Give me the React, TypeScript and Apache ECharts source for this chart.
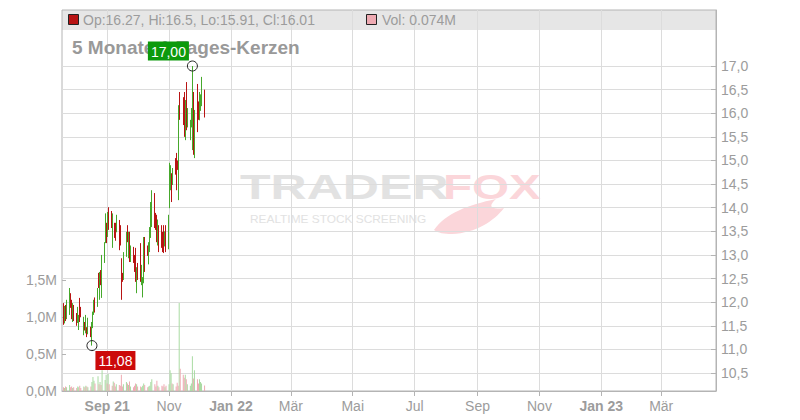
import React, { useEffect, useRef } from 'react';
import * as echarts from 'echarts';

const dates = [
  '2021-07-20','2021-07-21','2021-07-22','2021-07-23','2021-07-26','2021-07-27','2021-07-28','2021-07-29','2021-07-30',
  '2021-08-02','2021-08-03','2021-08-04','2021-08-05','2021-08-06','2021-08-09','2021-08-10','2021-08-11','2021-08-12','2021-08-13',
  '2021-08-16','2021-08-17','2021-08-18','2021-08-19','2021-08-20','2021-08-23','2021-08-24','2021-08-25','2021-08-26','2021-08-27',
  '2021-08-30','2021-08-31','2021-09-01','2021-09-02','2021-09-03','2021-09-06','2021-09-07','2021-09-08','2021-09-09','2021-09-10',
  '2021-09-13','2021-09-14','2021-09-15','2021-09-16','2021-09-17','2021-09-20','2021-09-21','2021-09-22','2021-09-23','2021-09-24',
  '2021-09-27','2021-09-28','2021-09-29','2021-09-30','2021-10-01','2021-10-04','2021-10-05','2021-10-06','2021-10-07','2021-10-08',
  '2021-10-11','2021-10-12','2021-10-13','2021-10-14','2021-10-15','2021-10-18','2021-10-19','2021-10-20','2021-10-21','2021-10-22',
  '2021-10-25','2021-10-26','2021-10-27','2021-10-28','2021-10-29','2021-11-01','2021-11-02','2021-11-03','2021-11-04','2021-11-05',
  '2021-11-08','2021-11-09','2021-11-10','2021-11-11','2021-11-12','2021-11-15','2021-11-16','2021-11-17','2021-11-18','2021-11-19',
  '2021-11-22','2021-11-23','2021-11-24','2021-11-25','2021-11-26','2021-11-29','2021-11-30','2021-12-01','2021-12-02','2021-12-03',
  '2021-12-06'
];
const opens = [
  11.94,11.60,11.90,11.68,11.78,12.15,11.98,11.64,11.90,
  11.74,11.58,11.45,12.05,11.85,11.35,11.55,11.38,11.45,11.36,
  11.46,11.30,11.48,11.75,12.05,11.95,12.60,12.10,12.60,12.15,
  12.88,13.30,13.60,13.45,13.95,13.85,13.20,13.66,13.65,13.50,
  13.65,13.55,12.90,12.60,12.50,12.98,13.60,13.00,13.45,12.90,
  13.15,12.95,13.10,12.25,12.80,13.20,12.40,12.15,12.45,13.30,
  13.15,12.85,13.10,13.40,13.70,14.25,13.85,13.80,13.30,13.60,
  13.55,13.45,13.60,13.20,13.55,13.15,14.00,14.40,14.68,14.50,
  15.00,15.10,14.95,14.25,16.40,16.30,16.35,15.55,16.60,15.75,
  15.50,15.75,15.60,16.40,15.30,16.50,16.20,15.90,16.10,16.20,
  16.27
];
const highs = [
  11.98,11.92,11.94,12.05,12.30,12.19,12.05,11.98,11.94,
  11.77,11.90,11.73,12.09,11.90,11.69,11.58,11.73,11.47,11.67,
  11.48,11.58,11.80,12.05,12.10,12.30,12.62,12.64,12.68,13.00,
  13.27,13.88,13.68,13.91,14.01,13.93,13.88,13.68,13.68,13.85,
  13.74,13.63,12.93,12.62,13.06,13.49,13.63,13.49,13.49,13.20,
  13.17,13.00,13.15,12.74,12.83,13.25,12.79,12.53,13.38,13.38,
  13.20,13.27,13.59,14.12,14.37,14.31,13.89,13.85,13.75,13.63,
  13.63,13.49,13.63,13.50,13.63,13.85,14.95,14.90,14.73,14.84,
  15.05,15.16,15.00,16.17,16.45,16.34,16.45,16.28,16.66,16.11,
  15.86,16.11,17.00,16.45,16.07,16.62,16.25,16.45,16.40,16.77,
  16.50
];
const lows = [
  11.52,11.55,11.60,11.64,11.73,11.88,11.64,11.58,11.60,
  11.50,11.56,11.41,11.58,11.68,11.30,11.40,11.34,11.26,11.32,
  11.26,11.08,11.45,11.73,11.78,11.90,12.30,12.05,12.36,12.09,
  12.83,13.25,13.25,13.38,13.53,13.57,13.15,13.36,13.30,13.48,
  13.10,13.20,12.05,12.43,12.47,12.96,13.27,12.93,12.85,12.85,
  12.83,12.64,12.43,12.19,12.47,12.43,12.36,12.10,12.40,12.64,
  12.98,12.80,13.06,13.36,13.59,13.57,13.53,13.27,13.20,13.06,
  13.15,13.06,13.04,13.18,13.06,13.12,13.99,14.37,14.12,14.48,
  14.70,14.37,14.80,14.16,15.86,15.75,15.50,15.43,15.64,15.70,
  15.43,15.70,15.22,15.12,15.05,15.60,15.86,15.85,16.05,16.15,
  15.91
];
const closes = [
  11.56,11.88,11.65,11.98,12.20,11.92,11.70,11.90,11.66,
  11.53,11.85,11.70,11.62,11.72,11.62,11.43,11.68,11.30,11.60,
  11.30,11.50,11.76,12.00,11.82,12.25,12.34,12.60,12.40,12.90,
  13.20,13.80,13.30,13.85,13.60,13.62,13.80,13.40,13.35,13.78,
  13.20,13.25,12.15,12.46,13.00,13.42,13.30,13.45,12.90,13.15,
  12.87,12.68,12.50,12.70,12.50,12.50,12.75,12.48,13.30,12.70,
  13.00,13.20,13.50,14.00,14.30,13.65,13.56,13.30,13.70,13.10,
  13.20,13.12,13.10,13.45,13.12,13.75,14.85,14.85,14.20,14.78,
  14.74,14.45,14.83,16.05,15.90,15.80,15.60,16.20,15.70,16.05,
  15.80,16.05,16.20,15.30,15.95,15.70,15.92,16.40,16.35,16.70,
  16.01
];
const volumes = [
  0.05,0.04,0.06,0.05,0.08,0.05,0.06,0.04,0.05,
  0.04,0.06,0.05,0.07,0.04,0.06,0.05,0.07,0.06,0.05,
  0.06,0.12,0.19,0.14,0.10,0.20,0.09,0.12,0.08,0.28,
  0.15,0.22,0.10,0.23,0.09,0.07,0.13,0.11,0.06,0.09,
  0.08,0.07,0.22,0.06,0.09,0.12,0.10,0.08,0.13,0.06,
  0.05,0.07,0.10,0.09,0.06,0.06,0.05,0.07,0.10,0.08,
  0.05,0.06,0.07,0.12,0.16,0.09,0.06,0.14,0.07,0.05,
  0.07,0.06,0.09,0.05,0.07,0.09,0.28,0.24,0.10,0.09,
  0.06,0.11,0.07,1.19,0.30,0.22,0.18,0.22,0.16,0.09,
  0.07,0.10,0.47,0.17,0.28,0.16,0.10,0.16,0.12,0.10,
  0.074
];

const priceTicks = [10.5, 11, 11.5, 12, 12.5, 13, 13.5, 14, 14.5, 15, 15.5, 16, 16.5, 17];
const monthTickDates = ['2021-09-01','2021-11-01','2022-01-01','2022-03-01','2022-05-01','2022-07-01','2022-09-01','2022-11-01','2023-01-01','2023-03-01'];
const monthTickLabels = ['Sep 21','Nov','Jan 22','Mär','Mai','Jul','Sep','Nov','Jan 23','Mär'];
const yearLabels = ['Sep 21','Jan 22','Jan 23'];
const headerText = 'Op:16.27, Hi:16.5, Lo:15.91, Cl:16.01';
const volText = 'Vol: 0.074M';
const titleText = '5 Monate 1-Tages-Kerzen';

const FONT = '"Liberation Sans", Arial, sans-serif';
const UP = '#46a82c';
const DOWN = '#b81414';
const VOL_UP = '#a9dba2';
const VOL_DOWN = '#eeaab2';
const GRID = '#dcdcdc';
const AXIS = '#b4b4b4';
const LABEL = '#9c9c9c';

function ts(s: string): number {
  const [y, m, d] = s.split('-').map(Number);
  return Date.UTC(y, m - 1, d);
}

const fmtComma = (v: number, digits: number) => v.toFixed(digits).replace('.', ',');

echarts.graphic.registerShape('foxtail', echarts.graphic.extendPath(
  'M0 31 C12 14 34 6 62 0 C54 7 56 11 70 9 C60 22 42 34 18 35 C10 35 4 34 0 31 Z', {}
));

export default function App() {
  const ref = useRef<HTMLDivElement>(null);
  useEffect(() => {
    if (!ref.current) return;
    const chart = echarts.init(ref.current, undefined, { renderer: 'svg' });
    const tickTs = monthTickDates.map(ts);
    const candleData = dates.map((d, i) => [ts(d), opens[i], closes[i], lows[i], highs[i]]);
    const volData = dates.map((d, i) => ({
      value: [ts(d), volumes[i]],
      itemStyle: { color: closes[i] >= opens[i] ? VOL_UP : VOL_DOWN },
    }));
    let iMax = 0, iMin = 0;
    highs.forEach((h, i) => { if (h > highs[iMax]) iMax = i; });
    lows.forEach((l, i) => { if (l < lows[iMin]) iMin = i; });

    const xMin = Date.UTC(2021, 6, 18, 12);
    const xMax = Date.UTC(2023, 3, 24);

    const xLabelFormatter = (value: number) => {
      let idx = -1;
      tickTs.forEach((t, i) => { if (Math.abs(t - value) < 43200000) idx = i; });
      if (idx < 0) return '';
      const l = monthTickLabels[idx];
      return yearLabels.includes(l) ? `{b|${l}}` : `{n|${l}}`;
    };

    chart.setOption({
      animation: false,
      textStyle: { fontFamily: FONT },
      grid: [
        { left: 62, right: 84, top: 10, bottom: 29, show: true, borderColor: AXIS, borderWidth: 1, backgroundColor: 'transparent' },
        { left: 62, right: 84, top: 280, bottom: 29, show: false },
      ],
      xAxis: [
        {
          type: 'value', gridIndex: 0, min: xMin, max: xMax, scale: true,
          axisLine: { show: true, lineStyle: { color: AXIS } },
          axisTick: { show: true, length: 5, lineStyle: { color: AXIS }, customValues: tickTs },
          axisLabel: {
            customValues: tickTs, margin: 8, formatter: xLabelFormatter,
            rich: {
              b: { fontWeight: 'bold', fontSize: 14, color: LABEL, fontFamily: FONT },
              n: { fontSize: 14, color: LABEL, fontFamily: FONT },
            },
          },
          splitLine: { show: true, lineStyle: { color: GRID, width: 1 } },
        },
        { type: 'value', gridIndex: 1, min: xMin, max: xMax, scale: true, show: false, splitLine: { show: false } },
      ],
      yAxis: [
        {
          type: 'value', gridIndex: 0, position: 'right', min: 10.119, max: 18.186,
          axisLine: { show: true, lineStyle: { color: AXIS } },
          axisTick: { show: true, inside: true, length: 5, lineStyle: { color: AXIS }, customValues: priceTicks },
          axisLabel: { customValues: priceTicks, margin: 5, color: LABEL, fontSize: 14, fontFamily: FONT, formatter: (v: number) => fmtComma(v, 1) },
          splitLine: { show: true, lineStyle: { color: GRID, width: 1 } },
        },
        {
          type: 'value', gridIndex: 1, position: 'left', min: 0, max: 1.5, interval: 0.5,
          axisLine: { show: false },
          axisTick: { show: true, inside: true, length: 4, lineStyle: { color: AXIS } },
          axisLabel: { margin: 5, color: LABEL, fontSize: 14, fontFamily: FONT, formatter: (v: number) => fmtComma(v, 1) + 'M' },
          splitLine: { show: false },
        },
      ],
      series: [
        {
          type: 'bar', xAxisIndex: 1, yAxisIndex: 1, barWidth: 1, data: volData, z: 1,
        },
        {
          type: 'candlestick', xAxisIndex: 0, yAxisIndex: 0, barWidth: 1, data: candleData, z: 3,
          itemStyle: { color: UP, color0: DOWN, borderColor: UP, borderColor0: DOWN, borderWidth: 1 },
          markPoint: {
            z: 10,
            data: [
              {
                coord: [ts(dates[iMax]), highs[iMax]], symbol: 'circle', symbolSize: 10,
                itemStyle: { color: 'rgba(255,255,255,0)', borderColor: '#222', borderWidth: 1 },
                label: {
                  show: true, formatter: fmtComma(highs[iMax], 2), position: [-39, -19],
                  backgroundColor: '#0c9a0c', color: '#fff', padding: [3, 3, 2, 3], fontSize: 14, fontFamily: FONT,
                },
              },
              {
                coord: [ts(dates[iMin]), lows[iMin]], symbol: 'circle', symbolSize: 10,
                itemStyle: { color: 'rgba(255,255,255,0)', borderColor: '#222', borderWidth: 1 },
                label: {
                  show: true, formatter: fmtComma(lows[iMin], 2), position: [9, 11],
                  backgroundColor: '#cc0a0a', color: '#fff', padding: [3, 3, 2, 3], fontSize: 14, fontFamily: FONT,
                },
              },
            ],
          },
        },
      ],
      graphic: [
        { type: 'rect', z: -1, shape: { x: 62, y: 10, width: 654, height: 20 }, style: { fill: '#e6e6e6' } },
        { type: 'rect', z: 5, shape: { x: 68.5, y: 14.5, width: 10, height: 10 }, style: { fill: DOWN, stroke: '#222', lineWidth: 1 } },
        { type: 'text', z: 5, x: 83, y: 20, style: { text: headerText, font: `14px ${FONT}`, fill: LABEL, textVerticalAlign: 'middle' } },
        { type: 'rect', z: 5, shape: { x: 366.5, y: 14.5, width: 10, height: 10 }, style: { fill: '#eeaab2', stroke: '#222', lineWidth: 1 } },
        { type: 'text', z: 5, x: 382, y: 20, style: { text: volText, font: `14px ${FONT}`, fill: LABEL, textVerticalAlign: 'middle' } },
        { type: 'text', z: 4, x: 72, y: 47.5, style: { text: titleText, font: `bold 19px ${FONT}`, fill: '#999', textVerticalAlign: 'middle' } },
        { type: 'text', z: -1, x: 240, y: 169, scaleX: 1.43, style: { text: 'TRADER', font: `bold 35px ${FONT}`, fill: '#e2e2e2', textVerticalAlign: 'top' } },
        { type: 'text', z: -1, x: 443, y: 169, scaleX: 1.36, style: { text: 'FOX', font: `bold 35px ${FONT}`, fill: '#fbd6da', textVerticalAlign: 'top' } },
        { type: 'text', z: -1, x: 250, y: 219, scaleX: 1.08, style: { text: 'REALTIME STOCK SCREENING', font: `11px ${FONT}`, fill: '#e2e2e2', textVerticalAlign: 'middle' } },
        { type: 'foxtail', z: -1, x: 434, y: 199, scaleX: 1, scaleY: 1, style: { fill: '#fbd6da' } },
      ],
    });
    return () => chart.dispose();
  }, []);
  return <div ref={ref} style={{ position: 'fixed', left: 0, top: 0, width: 800, height: 420, background: '#fff' }} />;
}
